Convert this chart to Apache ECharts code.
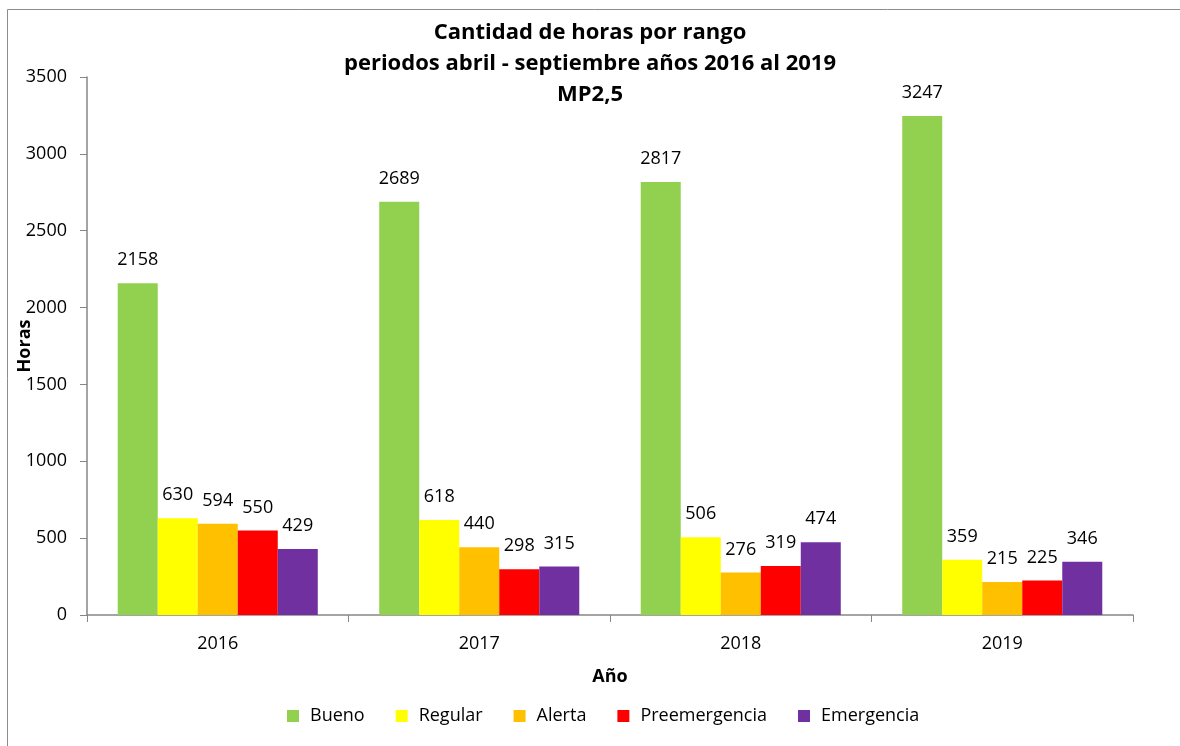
<!DOCTYPE html>
<html>
<head>
<meta charset="utf-8">
<script src="https://cdn.jsdelivr.net/npm/echarts@6/dist/echarts.min.js"></script>
<style>
  body { margin: 0; background: #fff; }
  #chart { width: 1180px; height: 746px; }
</style>
</head>
<body>
<div id="chart"></div>
<script>
// datos
const years = ['2016', '2017', '2018', '2019']
const bueno = [2158, 2689, 2817, 3247]
const regular = [630, 618, 506, 359]
const alerta = [594, 440, 276, 215]
const preemergencia = [550, 298, 319, 225]
const emergencia = [429, 315, 474, 346]

const names = ['Bueno', 'Regular', 'Alerta', 'Preemergencia', 'Emergencia']
const colors = ['#92D050', '#FFFF00', '#FFC000', '#FF0000', '#7030A0']
const valores = [bueno, regular, alerta, preemergencia, emergencia]

const font = '"Open Sans", "Liberation Sans", sans-serif'

const chart = echarts.init(document.getElementById('chart'))

const series = names.map((n, i) => ({
  name: n,
  type: 'bar',
  data: valores[i],
  barGap: 0,
  barCategoryGap: '23.5%',
  itemStyle: { color: colors[i] },
  label: {
    show: true,
    position: 'top',
    distance: 14,
    color: '#000',
    fontSize: 18,
    fontFamily: font
  }
}))

chart.setOption({
  animation: false,
  textStyle: { fontFamily: font },
  title: {
    text: 'Cantidad de horas por rango\nperiodos abril - septiembre años 2016 al 2019\nMP2,5',
    left: 'center',
    top: 12,
    textStyle: { fontSize: 22, fontWeight: 'bold', color: '#000', lineHeight: 31, fontFamily: font }
  },
  graphic: [{
    type: 'rect',
    shape: { x: 7.5, y: 9.5, width: 1200, height: 800 },
    style: { fill: 'none', stroke: '#8c8c8c', lineWidth: 1 },
    silent: true
  }],
  legend: {
    bottom: 16,
    left: 282,
    itemWidth: 12,
    itemHeight: 12,
    itemGap: 31,
    icon: 'rect',
    textStyle: { fontSize: 18, color: '#000', fontFamily: font, padding: [0, 0, 0, 6] }
  },
  grid: { left: 87, right: 47, top: 77, bottom: 131, outerBoundsMode: 'none' },
  xAxis: {
    type: 'category',
    data: years,
    name: 'Año',
    nameLocation: 'middle',
    nameGap: 53,
    nameMoveOverlap: false,
    nameTextStyle: { fontSize: 18, fontWeight: 'bold', color: '#000' },
    axisLine: { lineStyle: { color: '#868686', width: 1.5 } },
    axisTick: { show: true, length: 7, lineStyle: { color: '#868686' } },
    axisLabel: { fontSize: 18, color: '#000', margin: 20 }
  },
  yAxis: {
    type: 'value',
    min: 0,
    max: 3500,
    interval: 500,
    name: 'Horas',
    nameLocation: 'middle',
    nameGap: 53,
    nameMoveOverlap: false,
    nameTextStyle: { fontSize: 18, fontWeight: 'bold', color: '#000' },
    splitLine: { show: false },
    axisLine: { show: true, lineStyle: { color: '#868686', width: 1.5 } },
    axisTick: { show: true, length: 7, lineStyle: { color: '#868686' } },
    axisLabel: { fontSize: 18, color: '#000', margin: 20, formatter: v => String(v) }
  },
  series: series
})
</script>
</body>
</html>
